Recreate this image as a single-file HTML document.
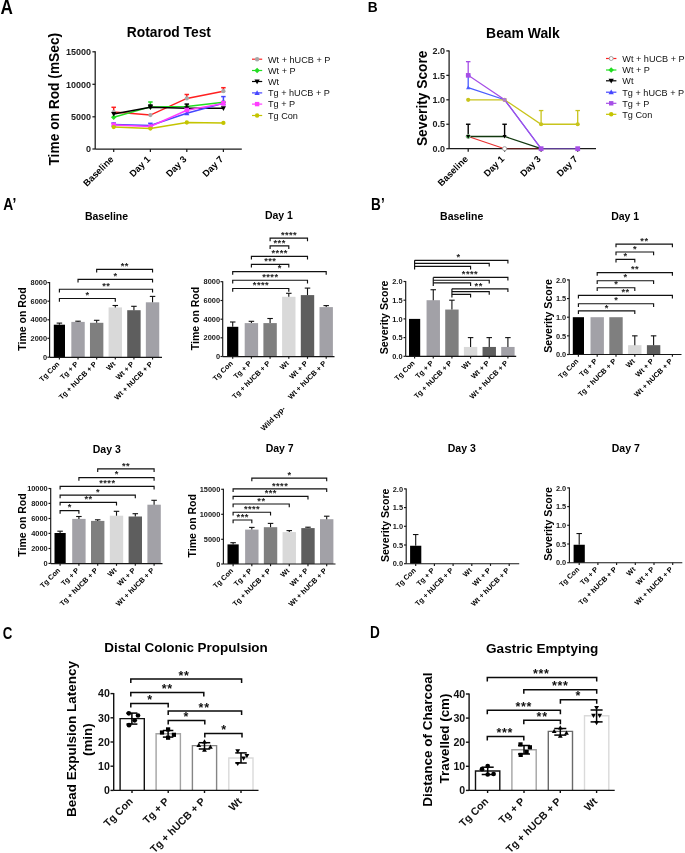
<!DOCTYPE html><html><head><meta charset="utf-8"><title>Figure</title><style>html,body{margin:0;padding:0;background:#fff;}svg{display:block;will-change:transform;}text{font-family:"Liberation Sans",sans-serif;}</style></head><body><svg width="685" height="853" viewBox="0 0 685 853" font-family="Liberation Sans" font-weight="bold">
<rect width="685" height="853" fill="#fff"/>
<text transform="translate(0.4 14.2) scale(0.88 1)" x="0" y="0" font-size="19.5">A</text>
<text transform="translate(367.7 11.6) scale(0.89 1)" x="0" y="0" font-size="15.4">B</text>
<text transform="translate(3.2 210.3) scale(0.87 1)" x="0" y="0" font-size="15.9">A’</text>
<text transform="translate(371.1 209.7) scale(0.86 1)" x="0" y="0" font-size="15.8">B’</text>
<text transform="translate(2.8 639.2) scale(0.83 1)" x="0" y="0" font-size="16">C</text>
<text transform="translate(370 637.7) scale(0.86 1)" x="0" y="0" font-size="15.8">D</text>
<text x="168.9" y="36.8" font-size="13.8" text-anchor="middle">Rotarod Test</text>
<text x="58.8" y="99.2" font-size="13.75" text-anchor="middle" transform="rotate(-90 58.8 99.2)">Time on Rod (mSec)</text>
<path d="M95.2 51.3L95.2 149" stroke="#1a1a1a" stroke-width="1.25" fill="none" />
<path d="M92.4 149L95.2 149" stroke="#1a1a1a" stroke-width="1.25" fill="none" />
<text x="91" y="152.2" font-size="9" text-anchor="end" fill="#1a1a1a">0</text>
<path d="M92.4 116.8L95.2 116.8" stroke="#1a1a1a" stroke-width="1.25" fill="none" />
<text x="91" y="120" font-size="9" text-anchor="end" fill="#1a1a1a">5000</text>
<path d="M92.4 84.3L95.2 84.3" stroke="#1a1a1a" stroke-width="1.25" fill="none" />
<text x="91" y="87.5" font-size="9" text-anchor="end" fill="#1a1a1a">10000</text>
<path d="M92.4 51.8L95.2 51.8" stroke="#1a1a1a" stroke-width="1.25" fill="none" />
<text x="91" y="55" font-size="9" text-anchor="end" fill="#1a1a1a">15000</text>
<path d="M95.2 149L241.8 149" stroke="#1a1a1a" stroke-width="1.25" fill="none" />
<path d="M113.7 149L113.7 152" stroke="#1a1a1a" stroke-width="1.25" fill="none" />
<path d="M150.4 149L150.4 152" stroke="#1a1a1a" stroke-width="1.25" fill="none" />
<path d="M186.8 149L186.8 152" stroke="#1a1a1a" stroke-width="1.25" fill="none" />
<path d="M223.4 149L223.4 152" stroke="#1a1a1a" stroke-width="1.25" fill="none" />
<text x="114.1" y="159.9" font-size="9.3" text-anchor="end" transform="rotate(-45 114.1 159.9)">Baseline</text>
<text x="150.8" y="159.9" font-size="9.3" text-anchor="end" transform="rotate(-45 150.8 159.9)">Day 1</text>
<text x="187.2" y="159.9" font-size="9.3" text-anchor="end" transform="rotate(-45 187.2 159.9)">Day 3</text>
<text x="223.8" y="159.9" font-size="9.3" text-anchor="end" transform="rotate(-45 223.8 159.9)">Day 7</text>
<path d="M113.7 112.1L113.7 107.3" stroke="#ff2020" stroke-width="1.5" fill="none" />
<path d="M111.45 107.3L115.95 107.3" stroke="#ff2020" stroke-width="1.5" fill="none" />
<path d="M186.8 98.4L186.8 94.5" stroke="#ff2020" stroke-width="1.5" fill="none" />
<path d="M184.55 94.5L189.05 94.5" stroke="#ff2020" stroke-width="1.5" fill="none" />
<path d="M223.4 91.2L223.4 87.7" stroke="#ff2020" stroke-width="1.5" fill="none" />
<path d="M221.15 87.7L225.65 87.7" stroke="#ff2020" stroke-width="1.5" fill="none" />
<path d="M113.7 112.1L150.4 115.1L186.8 98.4L223.4 91.2" stroke="#ff2020" stroke-width="1.5" fill="none" />
<circle cx="113.7" cy="112.1" r="2.15" fill="#a8a8a8"/>
<circle cx="150.4" cy="115.1" r="2.15" fill="#a8a8a8"/>
<circle cx="186.8" cy="98.4" r="2.15" fill="#a8a8a8"/>
<circle cx="223.4" cy="91.2" r="2.15" fill="#a8a8a8"/>
<path d="M150.4 106.9L150.4 102" stroke="#22dd22" stroke-width="1.5" fill="none" />
<path d="M148.15 102L152.65 102" stroke="#22dd22" stroke-width="1.5" fill="none" />
<path d="M113.7 117.3L150.4 106.9L186.8 106.5L223.4 102.3" stroke="#22dd22" stroke-width="1.5" fill="none" />
<path d="M113.7 114.61L116.39 117.3L113.7 119.99L111.01 117.3Z" fill="#22dd22"/>
<path d="M150.4 104.21L153.09 106.9L150.4 109.59L147.71 106.9Z" fill="#22dd22"/>
<path d="M186.8 103.81L189.49 106.5L186.8 109.19L184.11 106.5Z" fill="#22dd22"/>
<path d="M223.4 99.61L226.09 102.3L223.4 104.99L220.71 102.3Z" fill="#22dd22"/>
<path d="M150.4 107.3L150.4 105" stroke="#000000" stroke-width="1.5" fill="none" />
<path d="M148.15 105L152.65 105" stroke="#000000" stroke-width="1.5" fill="none" />
<path d="M186.8 108.3L186.8 104.1" stroke="#000000" stroke-width="1.5" fill="none" />
<path d="M184.55 104.1L189.05 104.1" stroke="#000000" stroke-width="1.5" fill="none" />
<path d="M113.7 113.9L150.4 107.3L186.8 108.3L223.4 108.3" stroke="#000000" stroke-width="1.5" fill="none" />
<path d="M113.7 116.48L116.28 111.97L111.12 111.97Z" fill="#000000"/>
<path d="M150.4 109.88L152.98 105.36L147.82 105.36Z" fill="#000000"/>
<path d="M186.8 110.88L189.38 106.36L184.22 106.36Z" fill="#000000"/>
<path d="M223.4 110.88L225.98 106.36L220.82 106.36Z" fill="#000000"/>
<path d="M113.7 124.5L113.7 123" stroke="#4646ff" stroke-width="1.5" fill="none" />
<path d="M111.45 123L115.95 123" stroke="#4646ff" stroke-width="1.5" fill="none" />
<path d="M150.4 125.5L150.4 123.3" stroke="#4646ff" stroke-width="1.5" fill="none" />
<path d="M148.15 123.3L152.65 123.3" stroke="#4646ff" stroke-width="1.5" fill="none" />
<path d="M186.8 113.3L186.8 111" stroke="#4646ff" stroke-width="1.5" fill="none" />
<path d="M184.55 111L189.05 111" stroke="#4646ff" stroke-width="1.5" fill="none" />
<path d="M223.4 103.2L223.4 96.6" stroke="#4646ff" stroke-width="1.5" fill="none" />
<path d="M221.15 96.6L225.65 96.6" stroke="#4646ff" stroke-width="1.5" fill="none" />
<path d="M113.7 124.5L150.4 125.5L186.8 113.3L223.4 103.2" stroke="#4646ff" stroke-width="1.5" fill="none" />
<path d="M113.7 121.92L116.28 126.44L111.12 126.44Z" fill="#4646ff"/>
<path d="M150.4 122.92L152.98 127.44L147.82 127.44Z" fill="#4646ff"/>
<path d="M186.8 110.72L189.38 115.23L184.22 115.23Z" fill="#4646ff"/>
<path d="M223.4 100.62L225.98 105.14L220.82 105.14Z" fill="#4646ff"/>
<path d="M113.7 124.9L113.7 123.5" stroke="#ff3cff" stroke-width="1.5" fill="none" />
<path d="M111.45 123.5L115.95 123.5" stroke="#ff3cff" stroke-width="1.5" fill="none" />
<path d="M186.8 110.2L186.8 108.5" stroke="#ff3cff" stroke-width="1.5" fill="none" />
<path d="M184.55 108.5L189.05 108.5" stroke="#ff3cff" stroke-width="1.5" fill="none" />
<path d="M223.4 103.5L223.4 101.5" stroke="#ff3cff" stroke-width="1.5" fill="none" />
<path d="M221.15 101.5L225.65 101.5" stroke="#ff3cff" stroke-width="1.5" fill="none" />
<path d="M113.7 124.9L150.4 126.5L186.8 110.2L223.4 103.5" stroke="#ff3cff" stroke-width="1.5" fill="none" />
<rect x="111.55" y="122.75" width="4.3" height="4.3" fill="#ff3cff"/>
<rect x="148.25" y="124.35" width="4.3" height="4.3" fill="#ff3cff"/>
<rect x="184.65" y="108.05" width="4.3" height="4.3" fill="#ff3cff"/>
<rect x="221.25" y="101.35" width="4.3" height="4.3" fill="#ff3cff"/>
<path d="M113.7 127.1L150.4 128.6L186.8 122.5L223.4 122.9" stroke="#c4c400" stroke-width="1.5" fill="none" />
<circle cx="113.7" cy="127.1" r="2.15" fill="#c4c400"/>
<circle cx="150.4" cy="128.6" r="2.15" fill="#c4c400"/>
<circle cx="186.8" cy="122.5" r="2.15" fill="#c4c400"/>
<circle cx="223.4" cy="122.9" r="2.15" fill="#c4c400"/>
<path d="M252 59.2L262.2 59.2" stroke="#ff2020" stroke-width="1.2" fill="none" />
<circle cx="257.1" cy="59.2" r="2.2" fill="#a8a8a8"/>
<text x="268" y="62.5" font-size="9.15" font-weight="normal" fill="#111">Wt + hUCB + P</text>
<path d="M252 70.5L262.2 70.5" stroke="#22dd22" stroke-width="1.2" fill="none" />
<path d="M257.1 67.75L259.85 70.5L257.1 73.25L254.35 70.5Z" fill="#22dd22"/>
<text x="268" y="73.8" font-size="9.15" font-weight="normal" fill="#111">Wt + P</text>
<path d="M252 81.5L262.2 81.5" stroke="#000" stroke-width="1.2" fill="none" />
<path d="M257.1 84.14L259.74 79.52L254.46 79.52Z" fill="#000"/>
<text x="268" y="84.8" font-size="9.15" font-weight="normal" fill="#111">Wt</text>
<path d="M252 92.9L262.2 92.9" stroke="#4646ff" stroke-width="1.2" fill="none" />
<path d="M257.1 90.26L259.74 94.88L254.46 94.88Z" fill="#4646ff"/>
<text x="268" y="96.2" font-size="9.15" font-weight="normal" fill="#111">Tg + hUCB + P</text>
<path d="M252 104.1L262.2 104.1" stroke="#ff3cff" stroke-width="1.2" fill="none" />
<rect x="254.9" y="101.9" width="4.4" height="4.4" fill="#ff3cff"/>
<text x="268" y="107.4" font-size="9.15" font-weight="normal" fill="#111">Tg + P</text>
<path d="M252 115.5L262.2 115.5" stroke="#c4c400" stroke-width="1.2" fill="none" />
<circle cx="257.1" cy="115.5" r="2.2" fill="#c4c400"/>
<text x="268" y="118.8" font-size="9.15" font-weight="normal" fill="#111">Tg Con</text>
<text x="522.9" y="37.8" font-size="13.9" text-anchor="middle">Beam Walk</text>
<text x="427.4" y="98.3" font-size="13.75" text-anchor="middle" transform="rotate(-90 427.4 98.3)">Severity Score</text>
<path d="M449.1 50.4L449.1 148.7" stroke="#1a1a1a" stroke-width="1.25" fill="none" />
<path d="M446.3 148.7L449.1 148.7" stroke="#1a1a1a" stroke-width="1.25" fill="none" />
<text x="445" y="151.9" font-size="9" text-anchor="end" fill="#1a1a1a">0.0</text>
<path d="M446.3 124.25L449.1 124.25" stroke="#1a1a1a" stroke-width="1.25" fill="none" />
<text x="445" y="127.45" font-size="9" text-anchor="end" fill="#1a1a1a">0.5</text>
<path d="M446.3 99.8L449.1 99.8" stroke="#1a1a1a" stroke-width="1.25" fill="none" />
<text x="445" y="103" font-size="9" text-anchor="end" fill="#1a1a1a">1.0</text>
<path d="M446.3 75.35L449.1 75.35" stroke="#1a1a1a" stroke-width="1.25" fill="none" />
<text x="445" y="78.55" font-size="9" text-anchor="end" fill="#1a1a1a">1.5</text>
<path d="M446.3 50.9L449.1 50.9" stroke="#1a1a1a" stroke-width="1.25" fill="none" />
<text x="445" y="54.1" font-size="9" text-anchor="end" fill="#1a1a1a">2.0</text>
<path d="M449.1 148.7L596 148.7" stroke="#1a1a1a" stroke-width="1.25" fill="none" />
<path d="M468.2 148.7L468.2 151.7" stroke="#1a1a1a" stroke-width="1.25" fill="none" />
<path d="M504.6 148.7L504.6 151.7" stroke="#1a1a1a" stroke-width="1.25" fill="none" />
<path d="M541.1 148.7L541.1 151.7" stroke="#1a1a1a" stroke-width="1.25" fill="none" />
<path d="M577.7 148.7L577.7 151.7" stroke="#1a1a1a" stroke-width="1.25" fill="none" />
<text x="468.6" y="159.6" font-size="9.3" text-anchor="end" transform="rotate(-45 468.6 159.6)">Baseline</text>
<text x="505" y="159.6" font-size="9.3" text-anchor="end" transform="rotate(-45 505 159.6)">Day 1</text>
<text x="541.5" y="159.6" font-size="9.3" text-anchor="end" transform="rotate(-45 541.5 159.6)">Day 3</text>
<text x="578.1" y="159.6" font-size="9.3" text-anchor="end" transform="rotate(-45 578.1 159.6)">Day 7</text>
<path d="M468.2 136.475L504.6 148.7" stroke="#e83030" stroke-width="1.1" fill="none" />
<path d="M504.6 148.7L541.1 148.7" stroke="#5c1a1a" stroke-width="1.2" fill="none" />
<path d="M468.2 136.47L468.2 124.25" stroke="#000" stroke-width="1.4" fill="none" />
<path d="M465.95 124.25L470.45 124.25" stroke="#000" stroke-width="1.4" fill="none" />
<path d="M504.6 136.47L504.6 124.25" stroke="#000" stroke-width="1.4" fill="none" />
<path d="M502.35 124.25L506.85 124.25" stroke="#000" stroke-width="1.4" fill="none" />
<path d="M468.2 136.475L504.6 136.475L541.1 148.7" stroke="#12380f" stroke-width="1.3" fill="none" />
<path d="M541.1 124.25L541.1 110.56" stroke="#c8c41c" stroke-width="1.3" fill="none" />
<path d="M538.85 110.56L543.35 110.56" stroke="#c8c41c" stroke-width="1.3" fill="none" />
<path d="M577.7 124.25L577.7 110.56" stroke="#c8c41c" stroke-width="1.3" fill="none" />
<path d="M575.45 110.56L579.95 110.56" stroke="#c8c41c" stroke-width="1.3" fill="none" />
<path d="M468.2 99.79999999999998L504.6 99.79999999999998L541.1 124.24999999999999L577.7 124.24999999999999" stroke="#c8c41c" stroke-width="1.3" fill="none" />
<path d="M468.2 87.57L468.2 75.35" stroke="#4a5cff" stroke-width="1.3" fill="none" />
<path d="M465.95 75.35L470.45 75.35" stroke="#4a5cff" stroke-width="1.3" fill="none" />
<path d="M468.2 87.57499999999999L504.6 99.79999999999998L541.1 148.7" stroke="#4a5cff" stroke-width="1.2" fill="none" />
<path d="M468.2 75.35L468.2 61.66" stroke="#a64ee6" stroke-width="1.3" fill="none" />
<path d="M465.95 61.66L470.45 61.66" stroke="#a64ee6" stroke-width="1.3" fill="none" />
<path d="M468.2 75.35L504.6 99.79999999999998L541.1 148.7" stroke="#a64ee6" stroke-width="1.2" fill="none" />
<path d="M541.1 148.7L577.7 148.7" stroke="#5c3c94" stroke-width="1.2" fill="none" />
<circle cx="468.2" cy="136.47" r="2.1" fill="#fff" stroke="#9a9a9a" stroke-width="0.9"/>
<circle cx="504.6" cy="148.7" r="2.1" fill="#fff" stroke="#9a9a9a" stroke-width="0.9"/>
<path d="M468.2 134.35L470.32 136.47L468.2 138.6L466.07 136.47Z" fill="#22cc22"/>
<path d="M468.2 138.51L470.24 134.94L466.16 134.94Z" fill="#000"/>
<path d="M504.6 138.51L506.64 134.94L502.56 134.94Z" fill="#000"/>
<circle cx="468.2" cy="99.8" r="2.1" fill="#c8c41c"/>
<circle cx="504.6" cy="99.8" r="2.1" fill="#c8c41c"/>
<circle cx="541.1" cy="124.25" r="2.1" fill="#c8c41c"/>
<circle cx="577.7" cy="124.25" r="2.1" fill="#c8c41c"/>
<path d="M468.2 85.41L470.36 89.19L466.04 89.19Z" fill="#4a5cff"/>
<rect x="465.9" y="73.05" width="4.6" height="4.6" fill="#a64ee6"/>
<rect x="502.8" y="98" width="3.6" height="3.6" fill="#b07ad0"/>
<rect x="538.7" y="146.3" width="4.8" height="4.8" fill="#a64ee6"/>
<rect x="575.3" y="146.3" width="4.8" height="4.8" fill="#a64ee6"/>
<path d="M606 58.5L616.4 58.5" stroke="#ff2020" stroke-width="1.2" fill="none" />
<circle cx="611.2" cy="58.5" r="2" fill="#fff" stroke="#999" stroke-width="0.9"/>
<text x="622.3" y="61.8" font-size="9.15" font-weight="normal" fill="#111">Wt + hUCB + P</text>
<path d="M606 70L616.4 70" stroke="#22dd22" stroke-width="1.2" fill="none" />
<path d="M611.2 67.25L613.95 70L611.2 72.75L608.45 70Z" fill="#22dd22"/>
<text x="622.3" y="73.3" font-size="9.15" font-weight="normal" fill="#111">Wt + P</text>
<path d="M606 80.8L616.4 80.8" stroke="#000" stroke-width="1.2" fill="none" />
<path d="M611.2 83.44L613.84 78.82L608.56 78.82Z" fill="#000"/>
<text x="622.3" y="84.1" font-size="9.15" font-weight="normal" fill="#111">Wt</text>
<path d="M606 92.2L616.4 92.2" stroke="#4646ff" stroke-width="1.2" fill="none" />
<path d="M611.2 89.56L613.84 94.18L608.56 94.18Z" fill="#4646ff"/>
<text x="622.3" y="95.5" font-size="9.15" font-weight="normal" fill="#111">Tg + hUCB + P</text>
<path d="M606 103.3L616.4 103.3" stroke="#a64ee6" stroke-width="1.2" fill="none" />
<rect x="609" y="101.1" width="4.4" height="4.4" fill="#a64ee6"/>
<text x="622.3" y="106.6" font-size="9.15" font-weight="normal" fill="#111">Tg + P</text>
<path d="M606 114.3L616.4 114.3" stroke="#c4c400" stroke-width="1.2" fill="none" />
<circle cx="611.2" cy="114.3" r="2.2" fill="#c4c400"/>
<text x="622.3" y="117.6" font-size="9.15" font-weight="normal" fill="#111">Tg Con</text>
<text x="106.5" y="220.2" font-size="10.5" text-anchor="middle">Baseline</text>
<text x="26" y="319" font-size="10.5" text-anchor="middle" transform="rotate(-90 26 319)">Time on Rod</text>
<rect x="53.8" y="324.7" width="11.2" height="32.6" fill="#000000"/>
<rect x="71.33" y="321.9" width="13.4" height="35.4" fill="#a2a1a7"/>
<rect x="89.96" y="322.8" width="13.4" height="34.5" fill="#7f7f7f"/>
<rect x="108.59" y="307.4" width="13.4" height="49.9" fill="#d9d9d9"/>
<rect x="127.22" y="310.2" width="13.4" height="47.1" fill="#5e5e5e"/>
<rect x="145.85" y="302.3" width="13.4" height="55" fill="#a2a1a7"/>
<path d="M59.4 324.7L59.4 323.1" stroke="#111" stroke-width="1.1" fill="none" />
<path d="M56.65 323.1L62.15 323.1" stroke="#111" stroke-width="1.1" fill="none" />
<path d="M78.03 321.9L78.03 321.2" stroke="#111" stroke-width="1.1" fill="none" />
<path d="M75.28 321.2L80.78 321.2" stroke="#111" stroke-width="1.1" fill="none" />
<path d="M96.66 322.8L96.66 320.3" stroke="#111" stroke-width="1.1" fill="none" />
<path d="M93.91 320.3L99.41 320.3" stroke="#111" stroke-width="1.1" fill="none" />
<path d="M115.29 307.4L115.29 305.5" stroke="#111" stroke-width="1.1" fill="none" />
<path d="M112.54 305.5L118.04 305.5" stroke="#111" stroke-width="1.1" fill="none" />
<path d="M133.92 310.2L133.92 306.3" stroke="#111" stroke-width="1.1" fill="none" />
<path d="M131.17 306.3L136.67 306.3" stroke="#111" stroke-width="1.1" fill="none" />
<path d="M152.55 302.3L152.55 296.4" stroke="#111" stroke-width="1.1" fill="none" />
<path d="M149.8 296.4L155.3 296.4" stroke="#111" stroke-width="1.1" fill="none" />
<path d="M49.6 282.1L49.6 357.2" stroke="#161616" stroke-width="1.15" fill="none" />
<path d="M47.4 357.2L49.6 357.2" stroke="#161616" stroke-width="1.15" fill="none" />
<text x="47" y="359.86" font-size="7.4" text-anchor="end" fill="#161616">0</text>
<path d="M47.4 338.3L49.6 338.3" stroke="#161616" stroke-width="1.15" fill="none" />
<text x="47" y="340.96" font-size="7.4" text-anchor="end" fill="#161616">2000</text>
<path d="M47.4 319.8L49.6 319.8" stroke="#161616" stroke-width="1.15" fill="none" />
<text x="47" y="322.46" font-size="7.4" text-anchor="end" fill="#161616">4000</text>
<path d="M47.4 301.2L49.6 301.2" stroke="#161616" stroke-width="1.15" fill="none" />
<text x="47" y="303.86" font-size="7.4" text-anchor="end" fill="#161616">6000</text>
<path d="M47.4 282.6L49.6 282.6" stroke="#161616" stroke-width="1.15" fill="none" />
<text x="47" y="285.26" font-size="7.4" text-anchor="end" fill="#161616">8000</text>
<path d="M49.6 357.3L162 357.3" stroke="#161616" stroke-width="1.15" fill="none" />
<path d="M59.4 357.3L59.4 359.5" stroke="#161616" stroke-width="1.15" fill="none" />
<path d="M78.03 357.3L78.03 359.5" stroke="#161616" stroke-width="1.15" fill="none" />
<path d="M96.66 357.3L96.66 359.5" stroke="#161616" stroke-width="1.15" fill="none" />
<path d="M115.29 357.3L115.29 359.5" stroke="#161616" stroke-width="1.15" fill="none" />
<path d="M133.92 357.3L133.92 359.5" stroke="#161616" stroke-width="1.15" fill="none" />
<path d="M152.55 357.3L152.55 359.5" stroke="#161616" stroke-width="1.15" fill="none" />
<text x="60" y="364.5" font-size="7.25" text-anchor="end" transform="rotate(-45 60 364.5)">Tg Con</text>
<text x="78.63" y="364.5" font-size="7.25" text-anchor="end" transform="rotate(-45 78.63 364.5)">Tg + P</text>
<text x="97.26" y="364.5" font-size="7.25" text-anchor="end" transform="rotate(-45 97.26 364.5)">Tg + hUCB + P</text>
<text x="115.89" y="364.5" font-size="7.25" text-anchor="end" transform="rotate(-45 115.89 364.5)">Wt</text>
<text x="134.52" y="364.5" font-size="7.25" text-anchor="end" transform="rotate(-45 134.52 364.5)">Wt + P</text>
<text x="153.15" y="364.5" font-size="7.25" text-anchor="end" transform="rotate(-45 153.15 364.5)">Wt + hUCB + P</text>
<path d="M96.66 272.6V269.4H152.55V272.6" stroke="#111" stroke-width="1.15" fill="none" />
<text x="124.83" y="269.1" font-size="9.3" text-anchor="middle" fill="#222" letter-spacing="0.45">**</text>
<path d="M78.03 282.5V279.3H152.55V282.5" stroke="#111" stroke-width="1.15" fill="none" />
<text x="115.51" y="279" font-size="9.3" text-anchor="middle" fill="#222" letter-spacing="0.45">*</text>
<path d="M59.4 292.4V289.2H152.55V292.4" stroke="#111" stroke-width="1.15" fill="none" />
<text x="106.2" y="288.9" font-size="9.3" text-anchor="middle" fill="#222" letter-spacing="0.45">**</text>
<path d="M59.4 301.7V298.5H115.29V301.7" stroke="#111" stroke-width="1.15" fill="none" />
<text x="87.57" y="298.2" font-size="9.3" text-anchor="middle" fill="#222" letter-spacing="0.45">*</text>
<text x="278.9" y="219.4" font-size="10.5" text-anchor="middle">Day 1</text>
<text x="199.2" y="318.5" font-size="10.5" text-anchor="middle" transform="rotate(-90 199.2 318.5)">Time on Rod</text>
<rect x="227.1" y="326.8" width="11.2" height="29.8" fill="#000000"/>
<rect x="244.7" y="323.1" width="13.4" height="33.5" fill="#a2a1a7"/>
<rect x="263.4" y="323.1" width="13.4" height="33.5" fill="#7f7f7f"/>
<rect x="282.1" y="296.8" width="13.4" height="59.8" fill="#d9d9d9"/>
<rect x="300.8" y="295.1" width="13.4" height="61.5" fill="#5e5e5e"/>
<rect x="319.5" y="307.1" width="13.4" height="49.5" fill="#a2a1a7"/>
<path d="M232.7 326.8L232.7 322" stroke="#111" stroke-width="1.1" fill="none" />
<path d="M229.95 322L235.45 322" stroke="#111" stroke-width="1.1" fill="none" />
<path d="M251.4 323.1L251.4 321.3" stroke="#111" stroke-width="1.1" fill="none" />
<path d="M248.65 321.3L254.15 321.3" stroke="#111" stroke-width="1.1" fill="none" />
<path d="M270.1 323.1L270.1 318.5" stroke="#111" stroke-width="1.1" fill="none" />
<path d="M267.35 318.5L272.85 318.5" stroke="#111" stroke-width="1.1" fill="none" />
<path d="M288.8 296.8L288.8 293.3" stroke="#111" stroke-width="1.1" fill="none" />
<path d="M286.05 293.3L291.55 293.3" stroke="#111" stroke-width="1.1" fill="none" />
<path d="M307.5 295.1L307.5 288.1" stroke="#111" stroke-width="1.1" fill="none" />
<path d="M304.75 288.1L310.25 288.1" stroke="#111" stroke-width="1.1" fill="none" />
<path d="M326.2 307.1L326.2 305.6" stroke="#111" stroke-width="1.1" fill="none" />
<path d="M323.45 305.6L328.95 305.6" stroke="#111" stroke-width="1.1" fill="none" />
<path d="M222.7 281.2L222.7 356.5" stroke="#161616" stroke-width="1.15" fill="none" />
<path d="M220.5 356.5L222.7 356.5" stroke="#161616" stroke-width="1.15" fill="none" />
<text x="220" y="359.16" font-size="7.4" text-anchor="end" fill="#161616">0</text>
<path d="M220.5 337.8L222.7 337.8" stroke="#161616" stroke-width="1.15" fill="none" />
<text x="220" y="340.46" font-size="7.4" text-anchor="end" fill="#161616">2000</text>
<path d="M220.5 319.2L222.7 319.2" stroke="#161616" stroke-width="1.15" fill="none" />
<text x="220" y="321.86" font-size="7.4" text-anchor="end" fill="#161616">4000</text>
<path d="M220.5 300.5L222.7 300.5" stroke="#161616" stroke-width="1.15" fill="none" />
<text x="220" y="303.16" font-size="7.4" text-anchor="end" fill="#161616">6000</text>
<path d="M220.5 281.7L222.7 281.7" stroke="#161616" stroke-width="1.15" fill="none" />
<text x="220" y="284.36" font-size="7.4" text-anchor="end" fill="#161616">8000</text>
<path d="M222.7 356.6L334.5 356.6" stroke="#161616" stroke-width="1.15" fill="none" />
<path d="M232.7 356.6L232.7 358.8" stroke="#161616" stroke-width="1.15" fill="none" />
<path d="M251.4 356.6L251.4 358.8" stroke="#161616" stroke-width="1.15" fill="none" />
<path d="M270.1 356.6L270.1 358.8" stroke="#161616" stroke-width="1.15" fill="none" />
<path d="M288.8 356.6L288.8 358.8" stroke="#161616" stroke-width="1.15" fill="none" />
<path d="M307.5 356.6L307.5 358.8" stroke="#161616" stroke-width="1.15" fill="none" />
<path d="M326.2 356.6L326.2 358.8" stroke="#161616" stroke-width="1.15" fill="none" />
<text x="233.3" y="363.8" font-size="7.25" text-anchor="end" transform="rotate(-45 233.3 363.8)">Tg Con</text>
<text x="252" y="363.8" font-size="7.25" text-anchor="end" transform="rotate(-45 252 363.8)">Tg + P</text>
<text x="270.7" y="363.8" font-size="7.25" text-anchor="end" transform="rotate(-45 270.7 363.8)">Tg + hUCB + P</text>
<text x="289.4" y="363.8" font-size="7.25" text-anchor="end" transform="rotate(-45 289.4 363.8)">Wt</text>
<text x="308.1" y="363.8" font-size="7.25" text-anchor="end" transform="rotate(-45 308.1 363.8)">Wt + P</text>
<text x="326.8" y="363.8" font-size="7.25" text-anchor="end" transform="rotate(-45 326.8 363.8)">Wt + hUCB + P</text>
<path d="M270.1 241.3V238.1H307.5V241.3" stroke="#111" stroke-width="1.15" fill="none" />
<text x="289.02" y="237.8" font-size="9.3" text-anchor="middle" fill="#222" letter-spacing="0.45">****</text>
<path d="M270.1 249V245.8H288.8V249" stroke="#111" stroke-width="1.15" fill="none" />
<text x="279.67" y="245.5" font-size="9.3" text-anchor="middle" fill="#222" letter-spacing="0.45">***</text>
<path d="M251.4 259.5V256.3H307.5V259.5" stroke="#111" stroke-width="1.15" fill="none" />
<text x="279.68" y="256" font-size="9.3" text-anchor="middle" fill="#222" letter-spacing="0.45">****</text>
<path d="M251.4 267.6V264.4H288.8V267.6" stroke="#111" stroke-width="1.15" fill="none" />
<text x="270.32" y="264.1" font-size="9.3" text-anchor="middle" fill="#222" letter-spacing="0.45">***</text>
<path d="M232.7 274.8V271.6H326.2V274.8" stroke="#111" stroke-width="1.15" fill="none" />
<text x="279.68" y="271.3" font-size="9.3" text-anchor="middle" fill="#222" letter-spacing="0.45">*</text>
<path d="M232.7 283.4V280.2H307.5V283.4" stroke="#111" stroke-width="1.15" fill="none" />
<text x="270.33" y="279.9" font-size="9.3" text-anchor="middle" fill="#222" letter-spacing="0.45">****</text>
<path d="M232.7 291.7V288.5H288.8V291.7" stroke="#111" stroke-width="1.15" fill="none" />
<text x="260.98" y="288.2" font-size="9.3" text-anchor="middle" fill="#222" letter-spacing="0.45">****</text>
<text x="285.8" y="409.3" font-size="7.4" text-anchor="end" transform="rotate(-45 285.8 409.3)">Wild typ-</text>
<text x="106.8" y="452.8" font-size="10.5" text-anchor="middle">Day 3</text>
<text x="26" y="525" font-size="10.5" text-anchor="middle" transform="rotate(-90 26 525)">Time on Rod</text>
<rect x="54.5" y="533" width="11.2" height="30.6" fill="#000000"/>
<rect x="72.2" y="518.9" width="13.4" height="44.7" fill="#a2a1a7"/>
<rect x="91" y="520.9" width="13.4" height="42.7" fill="#7f7f7f"/>
<rect x="109.8" y="515.7" width="13.4" height="47.9" fill="#d9d9d9"/>
<rect x="128.6" y="516.5" width="13.4" height="47.1" fill="#5e5e5e"/>
<rect x="147.4" y="504.7" width="13.4" height="58.9" fill="#a2a1a7"/>
<path d="M60.1 533L60.1 531.2" stroke="#111" stroke-width="1.1" fill="none" />
<path d="M57.35 531.2L62.85 531.2" stroke="#111" stroke-width="1.1" fill="none" />
<path d="M78.9 518.9L78.9 516.5" stroke="#111" stroke-width="1.1" fill="none" />
<path d="M76.15 516.5L81.65 516.5" stroke="#111" stroke-width="1.1" fill="none" />
<path d="M97.7 520.9L97.7 519.8" stroke="#111" stroke-width="1.1" fill="none" />
<path d="M94.95 519.8L100.45 519.8" stroke="#111" stroke-width="1.1" fill="none" />
<path d="M116.5 515.7L116.5 511.3" stroke="#111" stroke-width="1.1" fill="none" />
<path d="M113.75 511.3L119.25 511.3" stroke="#111" stroke-width="1.1" fill="none" />
<path d="M135.3 516.5L135.3 513.7" stroke="#111" stroke-width="1.1" fill="none" />
<path d="M132.55 513.7L138.05 513.7" stroke="#111" stroke-width="1.1" fill="none" />
<path d="M154.1 504.7L154.1 500.3" stroke="#111" stroke-width="1.1" fill="none" />
<path d="M151.35 500.3L156.85 500.3" stroke="#111" stroke-width="1.1" fill="none" />
<path d="M50.7 488L50.7 563.4" stroke="#161616" stroke-width="1.15" fill="none" />
<path d="M48.5 563.4L50.7 563.4" stroke="#161616" stroke-width="1.15" fill="none" />
<text x="47.7" y="566.06" font-size="7.4" text-anchor="end" fill="#161616">0</text>
<path d="M48.5 548.5L50.7 548.5" stroke="#161616" stroke-width="1.15" fill="none" />
<text x="47.7" y="551.16" font-size="7.4" text-anchor="end" fill="#161616">2000</text>
<path d="M48.5 533.4L50.7 533.4" stroke="#161616" stroke-width="1.15" fill="none" />
<text x="47.7" y="536.06" font-size="7.4" text-anchor="end" fill="#161616">4000</text>
<path d="M48.5 518.5L50.7 518.5" stroke="#161616" stroke-width="1.15" fill="none" />
<text x="47.7" y="521.16" font-size="7.4" text-anchor="end" fill="#161616">6000</text>
<path d="M48.5 503.4L50.7 503.4" stroke="#161616" stroke-width="1.15" fill="none" />
<text x="47.7" y="506.06" font-size="7.4" text-anchor="end" fill="#161616">8000</text>
<path d="M48.5 488.5L50.7 488.5" stroke="#161616" stroke-width="1.15" fill="none" />
<text x="47.7" y="491.16" font-size="7.4" text-anchor="end" fill="#161616">10000</text>
<path d="M50.7 563.6L162.5 563.6" stroke="#161616" stroke-width="1.15" fill="none" />
<path d="M60.1 563.6L60.1 565.8" stroke="#161616" stroke-width="1.15" fill="none" />
<path d="M78.9 563.6L78.9 565.8" stroke="#161616" stroke-width="1.15" fill="none" />
<path d="M97.7 563.6L97.7 565.8" stroke="#161616" stroke-width="1.15" fill="none" />
<path d="M116.5 563.6L116.5 565.8" stroke="#161616" stroke-width="1.15" fill="none" />
<path d="M135.3 563.6L135.3 565.8" stroke="#161616" stroke-width="1.15" fill="none" />
<path d="M154.1 563.6L154.1 565.8" stroke="#161616" stroke-width="1.15" fill="none" />
<text x="60.7" y="570.8" font-size="7.25" text-anchor="end" transform="rotate(-45 60.7 570.8)">Tg Con</text>
<text x="79.5" y="570.8" font-size="7.25" text-anchor="end" transform="rotate(-45 79.5 570.8)">Tg + P</text>
<text x="98.3" y="570.8" font-size="7.25" text-anchor="end" transform="rotate(-45 98.3 570.8)">Tg + hUCB + P</text>
<text x="117.1" y="570.8" font-size="7.25" text-anchor="end" transform="rotate(-45 117.1 570.8)">Wt</text>
<text x="135.9" y="570.8" font-size="7.25" text-anchor="end" transform="rotate(-45 135.9 570.8)">Wt + P</text>
<text x="154.7" y="570.8" font-size="7.25" text-anchor="end" transform="rotate(-45 154.7 570.8)">Wt + hUCB + P</text>
<path d="M97.7 472V468.8H154.1V472" stroke="#111" stroke-width="1.15" fill="none" />
<text x="126.12" y="468.5" font-size="9.3" text-anchor="middle" fill="#222" letter-spacing="0.45">**</text>
<path d="M78.9 480.8V477.6H154.1V480.8" stroke="#111" stroke-width="1.15" fill="none" />
<text x="116.72" y="477.3" font-size="9.3" text-anchor="middle" fill="#222" letter-spacing="0.45">*</text>
<path d="M60.1 489.5V486.3H154.1V489.5" stroke="#111" stroke-width="1.15" fill="none" />
<text x="107.32" y="486" font-size="9.3" text-anchor="middle" fill="#222" letter-spacing="0.45">****</text>
<path d="M60.1 498.3V495.1H135.3V498.3" stroke="#111" stroke-width="1.15" fill="none" />
<text x="97.92" y="494.8" font-size="9.3" text-anchor="middle" fill="#222" letter-spacing="0.45">*</text>
<path d="M60.1 505.5V502.3H116.5V505.5" stroke="#111" stroke-width="1.15" fill="none" />
<text x="88.52" y="502" font-size="9.3" text-anchor="middle" fill="#222" letter-spacing="0.45">**</text>
<path d="M60.1 513.8V510.6H78.9V513.8" stroke="#111" stroke-width="1.15" fill="none" />
<text x="69.72" y="510.3" font-size="9.3" text-anchor="middle" fill="#222" letter-spacing="0.45">*</text>
<text x="279.7" y="452" font-size="10.5" text-anchor="middle">Day 7</text>
<text x="196" y="525.8" font-size="10.5" text-anchor="middle" transform="rotate(-90 196 525.8)">Time on Rod</text>
<rect x="227.5" y="544.4" width="11.2" height="19.6" fill="#000000"/>
<rect x="245.12" y="529.6" width="13.4" height="34.4" fill="#a2a1a7"/>
<rect x="263.84" y="527.2" width="13.4" height="36.8" fill="#7f7f7f"/>
<rect x="282.56" y="532.1" width="13.4" height="31.9" fill="#d9d9d9"/>
<rect x="301.28" y="528.1" width="13.4" height="35.9" fill="#5e5e5e"/>
<rect x="320" y="519.2" width="13.4" height="44.8" fill="#a2a1a7"/>
<path d="M233.1 544.4L233.1 542.7" stroke="#111" stroke-width="1.1" fill="none" />
<path d="M230.35 542.7L235.85 542.7" stroke="#111" stroke-width="1.1" fill="none" />
<path d="M251.82 529.6L251.82 527.4" stroke="#111" stroke-width="1.1" fill="none" />
<path d="M249.07 527.4L254.57 527.4" stroke="#111" stroke-width="1.1" fill="none" />
<path d="M270.54 527.2L270.54 523.4" stroke="#111" stroke-width="1.1" fill="none" />
<path d="M267.79 523.4L273.29 523.4" stroke="#111" stroke-width="1.1" fill="none" />
<path d="M289.26 532.1L289.26 530.6" stroke="#111" stroke-width="1.1" fill="none" />
<path d="M286.51 530.6L292.01 530.6" stroke="#111" stroke-width="1.1" fill="none" />
<path d="M307.98 528.1L307.98 527.2" stroke="#111" stroke-width="1.1" fill="none" />
<path d="M305.23 527.2L310.73 527.2" stroke="#111" stroke-width="1.1" fill="none" />
<path d="M326.7 519.2L326.7 516.2" stroke="#111" stroke-width="1.1" fill="none" />
<path d="M323.95 516.2L329.45 516.2" stroke="#111" stroke-width="1.1" fill="none" />
<path d="M223.4 488.8L223.4 564" stroke="#161616" stroke-width="1.15" fill="none" />
<path d="M221.2 564L223.4 564" stroke="#161616" stroke-width="1.15" fill="none" />
<text x="220.3" y="566.66" font-size="7.4" text-anchor="end" fill="#161616">0</text>
<path d="M221.2 539.3L223.4 539.3" stroke="#161616" stroke-width="1.15" fill="none" />
<text x="220.3" y="541.96" font-size="7.4" text-anchor="end" fill="#161616">5000</text>
<path d="M221.2 514.3L223.4 514.3" stroke="#161616" stroke-width="1.15" fill="none" />
<text x="220.3" y="516.96" font-size="7.4" text-anchor="end" fill="#161616">10000</text>
<path d="M221.2 489.3L223.4 489.3" stroke="#161616" stroke-width="1.15" fill="none" />
<text x="220.3" y="491.96" font-size="7.4" text-anchor="end" fill="#161616">15000</text>
<path d="M223.4 564L335.5 564" stroke="#161616" stroke-width="1.15" fill="none" />
<path d="M233.1 564L233.1 566.2" stroke="#161616" stroke-width="1.15" fill="none" />
<path d="M251.82 564L251.82 566.2" stroke="#161616" stroke-width="1.15" fill="none" />
<path d="M270.54 564L270.54 566.2" stroke="#161616" stroke-width="1.15" fill="none" />
<path d="M289.26 564L289.26 566.2" stroke="#161616" stroke-width="1.15" fill="none" />
<path d="M307.98 564L307.98 566.2" stroke="#161616" stroke-width="1.15" fill="none" />
<path d="M326.7 564L326.7 566.2" stroke="#161616" stroke-width="1.15" fill="none" />
<text x="233.7" y="571.2" font-size="7.25" text-anchor="end" transform="rotate(-45 233.7 571.2)">Tg Con</text>
<text x="252.42" y="571.2" font-size="7.25" text-anchor="end" transform="rotate(-45 252.42 571.2)">Tg + P</text>
<text x="271.14" y="571.2" font-size="7.25" text-anchor="end" transform="rotate(-45 271.14 571.2)">Tg + hUCB + P</text>
<text x="289.86" y="571.2" font-size="7.25" text-anchor="end" transform="rotate(-45 289.86 571.2)">Wt</text>
<text x="308.58" y="571.2" font-size="7.25" text-anchor="end" transform="rotate(-45 308.58 571.2)">Wt + P</text>
<text x="327.3" y="571.2" font-size="7.25" text-anchor="end" transform="rotate(-45 327.3 571.2)">Wt + hUCB + P</text>
<path d="M251.82 481.3V478.1H326.7V481.3" stroke="#111" stroke-width="1.15" fill="none" />
<text x="289.49" y="477.8" font-size="9.3" text-anchor="middle" fill="#222" letter-spacing="0.45">*</text>
<path d="M233.1 492.1V488.9H326.7V492.1" stroke="#111" stroke-width="1.15" fill="none" />
<text x="280.12" y="488.6" font-size="9.3" text-anchor="middle" fill="#222" letter-spacing="0.45">****</text>
<path d="M233.1 499.5V496.3H307.98V499.5" stroke="#111" stroke-width="1.15" fill="none" />
<text x="270.77" y="496" font-size="9.3" text-anchor="middle" fill="#222" letter-spacing="0.45">***</text>
<path d="M233.1 507.2V504H289.26V507.2" stroke="#111" stroke-width="1.15" fill="none" />
<text x="261.41" y="503.7" font-size="9.3" text-anchor="middle" fill="#222" letter-spacing="0.45">**</text>
<path d="M233.1 515.4V512.2H270.54V515.4" stroke="#111" stroke-width="1.15" fill="none" />
<text x="252.04" y="511.9" font-size="9.3" text-anchor="middle" fill="#222" letter-spacing="0.45">****</text>
<path d="M233.1 523.2V520H251.82V523.2" stroke="#111" stroke-width="1.15" fill="none" />
<text x="242.68" y="519.7" font-size="9.3" text-anchor="middle" fill="#222" letter-spacing="0.45">***</text>
<text x="461.7" y="220.2" font-size="10.5" text-anchor="middle">Baseline</text>
<text x="387.6" y="317.4" font-size="10.6" text-anchor="middle" transform="rotate(-90 387.6 317.4)">Severity Score</text>
<rect x="409" y="318.9" width="11.2" height="37.4" fill="#000000"/>
<rect x="426.56" y="300.2" width="13.4" height="56.1" fill="#a2a1a7"/>
<rect x="445.22" y="309.55" width="13.4" height="46.75" fill="#7f7f7f"/>
<rect x="463.88" y="346.95" width="13.4" height="9.35" fill="#d9d9d9"/>
<rect x="482.54" y="346.95" width="13.4" height="9.35" fill="#5e5e5e"/>
<rect x="501.2" y="346.95" width="13.4" height="9.35" fill="#a2a1a7"/>
<path d="M433.26 300.2L433.26 289.73" stroke="#111" stroke-width="1.1" fill="none" />
<path d="M430.51 289.73L436.01 289.73" stroke="#111" stroke-width="1.1" fill="none" />
<path d="M451.92 309.55L451.92 300.2" stroke="#111" stroke-width="1.1" fill="none" />
<path d="M449.17 300.2L454.67 300.2" stroke="#111" stroke-width="1.1" fill="none" />
<path d="M470.58 346.95L470.58 337.6" stroke="#111" stroke-width="1.1" fill="none" />
<path d="M467.83 337.6L473.33 337.6" stroke="#111" stroke-width="1.1" fill="none" />
<path d="M489.24 346.95L489.24 337.6" stroke="#111" stroke-width="1.1" fill="none" />
<path d="M486.49 337.6L491.99 337.6" stroke="#111" stroke-width="1.1" fill="none" />
<path d="M507.9 346.95L507.9 337.6" stroke="#111" stroke-width="1.1" fill="none" />
<path d="M505.15 337.6L510.65 337.6" stroke="#111" stroke-width="1.1" fill="none" />
<path d="M405.7 281L405.7 356.3" stroke="#161616" stroke-width="1.15" fill="none" />
<path d="M403.5 356.3L405.7 356.3" stroke="#161616" stroke-width="1.15" fill="none" />
<text x="402.5" y="358.96" font-size="7.4" text-anchor="end" fill="#161616">0.0</text>
<path d="M403.5 337.6L405.7 337.6" stroke="#161616" stroke-width="1.15" fill="none" />
<text x="402.5" y="340.26" font-size="7.4" text-anchor="end" fill="#161616">0.5</text>
<path d="M403.5 318.9L405.7 318.9" stroke="#161616" stroke-width="1.15" fill="none" />
<text x="402.5" y="321.56" font-size="7.4" text-anchor="end" fill="#161616">1.0</text>
<path d="M403.5 300.2L405.7 300.2" stroke="#161616" stroke-width="1.15" fill="none" />
<text x="402.5" y="302.86" font-size="7.4" text-anchor="end" fill="#161616">1.5</text>
<path d="M403.5 281.5L405.7 281.5" stroke="#161616" stroke-width="1.15" fill="none" />
<text x="402.5" y="284.16" font-size="7.4" text-anchor="end" fill="#161616">2.0</text>
<path d="M405.7 356.3L516.2 356.3" stroke="#161616" stroke-width="1.15" fill="none" />
<path d="M414.6 356.3L414.6 358.5" stroke="#161616" stroke-width="1.15" fill="none" />
<path d="M433.26 356.3L433.26 358.5" stroke="#161616" stroke-width="1.15" fill="none" />
<path d="M451.92 356.3L451.92 358.5" stroke="#161616" stroke-width="1.15" fill="none" />
<path d="M470.58 356.3L470.58 358.5" stroke="#161616" stroke-width="1.15" fill="none" />
<path d="M489.24 356.3L489.24 358.5" stroke="#161616" stroke-width="1.15" fill="none" />
<path d="M507.9 356.3L507.9 358.5" stroke="#161616" stroke-width="1.15" fill="none" />
<text x="415.2" y="363.5" font-size="7.25" text-anchor="end" transform="rotate(-45 415.2 363.5)">Tg Con</text>
<text x="433.86" y="363.5" font-size="7.25" text-anchor="end" transform="rotate(-45 433.86 363.5)">Tg + P</text>
<text x="452.52" y="363.5" font-size="7.25" text-anchor="end" transform="rotate(-45 452.52 363.5)">Tg + hUCB + P</text>
<text x="471.18" y="363.5" font-size="7.25" text-anchor="end" transform="rotate(-45 471.18 363.5)">Wt</text>
<text x="489.84" y="363.5" font-size="7.25" text-anchor="end" transform="rotate(-45 489.84 363.5)">Wt + P</text>
<text x="508.5" y="363.5" font-size="7.25" text-anchor="end" transform="rotate(-45 508.5 363.5)">Wt + hUCB + P</text>
<path d="M414.6 260.3V269.5" stroke="#111" stroke-width="1.15" fill="none" />
<path d="M414.6 260.3H507.9V263.5" stroke="#111" stroke-width="1.15" fill="none" />
<path d="M414.6 263.4H489.24V266.6" stroke="#111" stroke-width="1.15" fill="none" />
<path d="M414.6 266.3H470.58V269.5" stroke="#111" stroke-width="1.15" fill="none" />
<text x="458.48" y="260" font-size="9.3" text-anchor="middle" fill="#222" letter-spacing="0.45">*</text>
<path d="M433.26 277.4V286.1" stroke="#111" stroke-width="1.15" fill="none" />
<path d="M433.26 277.4H507.9V280.6" stroke="#111" stroke-width="1.15" fill="none" />
<path d="M433.26 280.2H489.24V283.4" stroke="#111" stroke-width="1.15" fill="none" />
<path d="M433.26 282.9H470.58V286.1" stroke="#111" stroke-width="1.15" fill="none" />
<text x="470.01" y="277.1" font-size="9.3" text-anchor="middle" fill="#222" letter-spacing="0.45">****</text>
<path d="M451.92 288.8V297.5" stroke="#111" stroke-width="1.15" fill="none" />
<path d="M451.92 288.8H507.9V292" stroke="#111" stroke-width="1.15" fill="none" />
<path d="M451.92 291.6H489.24V294.8" stroke="#111" stroke-width="1.15" fill="none" />
<path d="M451.92 294.3H470.58V297.5" stroke="#111" stroke-width="1.15" fill="none" />
<text x="478.64" y="288.5" font-size="9.3" text-anchor="middle" fill="#222" letter-spacing="0.45">**</text>
<text x="625.2" y="220" font-size="10.5" text-anchor="middle">Day 1</text>
<text x="552" y="316" font-size="10.6" text-anchor="middle" transform="rotate(-90 552 316)">Severity Score</text>
<rect x="572.8" y="317.2" width="11.2" height="37.3" fill="#000000"/>
<rect x="590.5" y="317.2" width="13.4" height="37.3" fill="#a2a1a7"/>
<rect x="609.3" y="317.2" width="13.4" height="37.3" fill="#7f7f7f"/>
<rect x="628.1" y="345.18" width="13.4" height="9.32" fill="#d9d9d9"/>
<rect x="646.9" y="345.18" width="13.4" height="9.32" fill="#5e5e5e"/>
<path d="M634.8 345.18L634.8 335.85" stroke="#111" stroke-width="1.1" fill="none" />
<path d="M632.05 335.85L637.55 335.85" stroke="#111" stroke-width="1.1" fill="none" />
<path d="M653.6 345.18L653.6 335.85" stroke="#111" stroke-width="1.1" fill="none" />
<path d="M650.85 335.85L656.35 335.85" stroke="#111" stroke-width="1.1" fill="none" />
<path d="M569.2 279.4L569.2 354.5" stroke="#161616" stroke-width="1.15" fill="none" />
<path d="M567 354.5L569.2 354.5" stroke="#161616" stroke-width="1.15" fill="none" />
<text x="566.2" y="357.16" font-size="7.4" text-anchor="end" fill="#161616">0.0</text>
<path d="M567 335.85L569.2 335.85" stroke="#161616" stroke-width="1.15" fill="none" />
<text x="566.2" y="338.51" font-size="7.4" text-anchor="end" fill="#161616">0.5</text>
<path d="M567 317.2L569.2 317.2" stroke="#161616" stroke-width="1.15" fill="none" />
<text x="566.2" y="319.86" font-size="7.4" text-anchor="end" fill="#161616">1.0</text>
<path d="M567 298.55L569.2 298.55" stroke="#161616" stroke-width="1.15" fill="none" />
<text x="566.2" y="301.21" font-size="7.4" text-anchor="end" fill="#161616">1.5</text>
<path d="M567 279.9L569.2 279.9" stroke="#161616" stroke-width="1.15" fill="none" />
<text x="566.2" y="282.56" font-size="7.4" text-anchor="end" fill="#161616">2.0</text>
<path d="M569.2 354.5L681.5 354.5" stroke="#161616" stroke-width="1.15" fill="none" />
<path d="M578.4 354.5L578.4 356.7" stroke="#161616" stroke-width="1.15" fill="none" />
<path d="M597.2 354.5L597.2 356.7" stroke="#161616" stroke-width="1.15" fill="none" />
<path d="M616 354.5L616 356.7" stroke="#161616" stroke-width="1.15" fill="none" />
<path d="M634.8 354.5L634.8 356.7" stroke="#161616" stroke-width="1.15" fill="none" />
<path d="M653.6 354.5L653.6 356.7" stroke="#161616" stroke-width="1.15" fill="none" />
<path d="M672.4 354.5L672.4 356.7" stroke="#161616" stroke-width="1.15" fill="none" />
<text x="579" y="361.7" font-size="7.25" text-anchor="end" transform="rotate(-45 579 361.7)">Tg Con</text>
<text x="597.8" y="361.7" font-size="7.25" text-anchor="end" transform="rotate(-45 597.8 361.7)">Tg + P</text>
<text x="616.6" y="361.7" font-size="7.25" text-anchor="end" transform="rotate(-45 616.6 361.7)">Tg + hUCB + P</text>
<text x="635.4" y="361.7" font-size="7.25" text-anchor="end" transform="rotate(-45 635.4 361.7)">Wt</text>
<text x="654.2" y="361.7" font-size="7.25" text-anchor="end" transform="rotate(-45 654.2 361.7)">Wt + P</text>
<text x="673" y="361.7" font-size="7.25" text-anchor="end" transform="rotate(-45 673 361.7)">Wt + hUCB + P</text>
<path d="M616 247.3V244.1H672.4V247.3" stroke="#111" stroke-width="1.15" fill="none" />
<text x="644.43" y="243.8" font-size="9.3" text-anchor="middle" fill="#222" letter-spacing="0.45">**</text>
<path d="M616 255.2V252H653.6V255.2" stroke="#111" stroke-width="1.15" fill="none" />
<text x="635.02" y="251.7" font-size="9.3" text-anchor="middle" fill="#222" letter-spacing="0.45">*</text>
<path d="M616 262.6V259.4H634.8V262.6" stroke="#111" stroke-width="1.15" fill="none" />
<text x="625.62" y="259.1" font-size="9.3" text-anchor="middle" fill="#222" letter-spacing="0.45">*</text>
<path d="M597.2 275.8V272.6H672.4V275.8" stroke="#111" stroke-width="1.15" fill="none" />
<text x="635.02" y="272.3" font-size="9.3" text-anchor="middle" fill="#222" letter-spacing="0.45">**</text>
<path d="M597.2 283.9V280.7H653.6V283.9" stroke="#111" stroke-width="1.15" fill="none" />
<text x="625.62" y="280.4" font-size="9.3" text-anchor="middle" fill="#222" letter-spacing="0.45">*</text>
<path d="M597.2 290.9V287.7H634.8V290.9" stroke="#111" stroke-width="1.15" fill="none" />
<text x="616.23" y="287.4" font-size="9.3" text-anchor="middle" fill="#222" letter-spacing="0.45">*</text>
<path d="M578.4 298.6V295.4H672.4V298.6" stroke="#111" stroke-width="1.15" fill="none" />
<text x="625.62" y="295.1" font-size="9.3" text-anchor="middle" fill="#222" letter-spacing="0.45">**</text>
<path d="M578.4 306.9V303.7H653.6V306.9" stroke="#111" stroke-width="1.15" fill="none" />
<text x="616.23" y="303.4" font-size="9.3" text-anchor="middle" fill="#222" letter-spacing="0.45">*</text>
<path d="M578.4 314V310.8H634.8V314" stroke="#111" stroke-width="1.15" fill="none" />
<text x="606.82" y="310.5" font-size="9.3" text-anchor="middle" fill="#222" letter-spacing="0.45">*</text>
<text x="461.8" y="452" font-size="10.5" text-anchor="middle">Day 3</text>
<text x="388.8" y="525.3" font-size="10.6" text-anchor="middle" transform="rotate(-90 388.8 525.3)">Severity Score</text>
<rect x="410.1" y="545.75" width="11.2" height="17.95" fill="#000000"/>
<path d="M415.7 545.75L415.7 534.53" stroke="#111" stroke-width="1.1" fill="none" />
<path d="M412.95 534.53L418.45 534.53" stroke="#111" stroke-width="1.1" fill="none" />
<path d="M406.2 488.4L406.2 563.7" stroke="#161616" stroke-width="1.15" fill="none" />
<path d="M404 563.7L406.2 563.7" stroke="#161616" stroke-width="1.15" fill="none" />
<text x="403" y="566.36" font-size="7.4" text-anchor="end" fill="#161616">0.0</text>
<path d="M404 545L406.2 545" stroke="#161616" stroke-width="1.15" fill="none" />
<text x="403" y="547.66" font-size="7.4" text-anchor="end" fill="#161616">0.5</text>
<path d="M404 526.3L406.2 526.3" stroke="#161616" stroke-width="1.15" fill="none" />
<text x="403" y="528.96" font-size="7.4" text-anchor="end" fill="#161616">1.0</text>
<path d="M404 507.6L406.2 507.6" stroke="#161616" stroke-width="1.15" fill="none" />
<text x="403" y="510.26" font-size="7.4" text-anchor="end" fill="#161616">1.5</text>
<path d="M404 488.9L406.2 488.9" stroke="#161616" stroke-width="1.15" fill="none" />
<text x="403" y="491.56" font-size="7.4" text-anchor="end" fill="#161616">2.0</text>
<path d="M406.2 563.7L519.2 563.7" stroke="#161616" stroke-width="1.15" fill="none" />
<path d="M415.7 563.7L415.7 565.9" stroke="#161616" stroke-width="1.15" fill="none" />
<path d="M434.4 563.7L434.4 565.9" stroke="#161616" stroke-width="1.15" fill="none" />
<path d="M453.1 563.7L453.1 565.9" stroke="#161616" stroke-width="1.15" fill="none" />
<path d="M471.8 563.7L471.8 565.9" stroke="#161616" stroke-width="1.15" fill="none" />
<path d="M490.5 563.7L490.5 565.9" stroke="#161616" stroke-width="1.15" fill="none" />
<path d="M509.2 563.7L509.2 565.9" stroke="#161616" stroke-width="1.15" fill="none" />
<text x="416.3" y="570.9" font-size="7.25" text-anchor="end" transform="rotate(-45 416.3 570.9)">Tg Con</text>
<text x="435" y="570.9" font-size="7.25" text-anchor="end" transform="rotate(-45 435 570.9)">Tg + P</text>
<text x="453.7" y="570.9" font-size="7.25" text-anchor="end" transform="rotate(-45 453.7 570.9)">Tg + hUCB + P</text>
<text x="472.4" y="570.9" font-size="7.25" text-anchor="end" transform="rotate(-45 472.4 570.9)">Wt</text>
<text x="491.1" y="570.9" font-size="7.25" text-anchor="end" transform="rotate(-45 491.1 570.9)">Wt + P</text>
<text x="509.8" y="570.9" font-size="7.25" text-anchor="end" transform="rotate(-45 509.8 570.9)">Wt + hUCB + P</text>
<text x="625.8" y="452" font-size="10.5" text-anchor="middle">Day 7</text>
<text x="552.4" y="524" font-size="10.6" text-anchor="middle" transform="rotate(-90 552.4 524)">Severity Score</text>
<rect x="573.6" y="544.75" width="11.2" height="17.95" fill="#000000"/>
<path d="M579.2 544.75L579.2 533.53" stroke="#111" stroke-width="1.1" fill="none" />
<path d="M576.45 533.53L581.95 533.53" stroke="#111" stroke-width="1.1" fill="none" />
<path d="M569.4 487.4L569.4 562.7" stroke="#161616" stroke-width="1.15" fill="none" />
<path d="M567.2 562.7L569.4 562.7" stroke="#161616" stroke-width="1.15" fill="none" />
<text x="566.2" y="565.36" font-size="7.4" text-anchor="end" fill="#161616">0.0</text>
<path d="M567.2 544L569.4 544" stroke="#161616" stroke-width="1.15" fill="none" />
<text x="566.2" y="546.66" font-size="7.4" text-anchor="end" fill="#161616">0.5</text>
<path d="M567.2 525.3L569.4 525.3" stroke="#161616" stroke-width="1.15" fill="none" />
<text x="566.2" y="527.96" font-size="7.4" text-anchor="end" fill="#161616">1.0</text>
<path d="M567.2 506.6L569.4 506.6" stroke="#161616" stroke-width="1.15" fill="none" />
<text x="566.2" y="509.26" font-size="7.4" text-anchor="end" fill="#161616">1.5</text>
<path d="M567.2 487.9L569.4 487.9" stroke="#161616" stroke-width="1.15" fill="none" />
<text x="566.2" y="490.56" font-size="7.4" text-anchor="end" fill="#161616">2.0</text>
<path d="M569.4 562.7L682.3 562.7" stroke="#161616" stroke-width="1.15" fill="none" />
<path d="M579.2 562.7L579.2 564.9" stroke="#161616" stroke-width="1.15" fill="none" />
<path d="M597.9 562.7L597.9 564.9" stroke="#161616" stroke-width="1.15" fill="none" />
<path d="M616.6 562.7L616.6 564.9" stroke="#161616" stroke-width="1.15" fill="none" />
<path d="M635.3 562.7L635.3 564.9" stroke="#161616" stroke-width="1.15" fill="none" />
<path d="M654 562.7L654 564.9" stroke="#161616" stroke-width="1.15" fill="none" />
<path d="M672.7 562.7L672.7 564.9" stroke="#161616" stroke-width="1.15" fill="none" />
<text x="579.8" y="569.9" font-size="7.25" text-anchor="end" transform="rotate(-45 579.8 569.9)">Tg Con</text>
<text x="598.5" y="569.9" font-size="7.25" text-anchor="end" transform="rotate(-45 598.5 569.9)">Tg + P</text>
<text x="617.2" y="569.9" font-size="7.25" text-anchor="end" transform="rotate(-45 617.2 569.9)">Tg + hUCB + P</text>
<text x="635.9" y="569.9" font-size="7.25" text-anchor="end" transform="rotate(-45 635.9 569.9)">Wt</text>
<text x="654.6" y="569.9" font-size="7.25" text-anchor="end" transform="rotate(-45 654.6 569.9)">Wt + P</text>
<text x="673.3" y="569.9" font-size="7.25" text-anchor="end" transform="rotate(-45 673.3 569.9)">Wt + hUCB + P</text>
<text x="186.05" y="652.2" font-size="13.45" text-anchor="middle">Distal Colonic Propulsion</text>
<text x="76" y="739" font-size="13.5" text-anchor="middle" transform="rotate(-90 76 739)">Bead Expulsion Latency</text>
<text x="92.4" y="739.7" font-size="13.4" text-anchor="middle" transform="rotate(-90 92.4 739.7)">(min)</text>
<path d="M120.1 790.4V718.6H144.3V790.4" stroke="#111" stroke-width="1.4" fill="none" />
<path d="M156.1 790.4V733.8H180.4V790.4" stroke="#a3a3a3" stroke-width="1.4" fill="none" />
<path d="M192.4 790.4V745.6H216.6V790.4" stroke="#858585" stroke-width="1.4" fill="none" />
<path d="M228.8 790.4V758H253V790.4" stroke="#dadada" stroke-width="1.4" fill="none" />
<path d="M113.7 693.1L113.7 790.4" stroke="#111" stroke-width="1.4" fill="none" />
<path d="M110.5 790.4L113.7 790.4" stroke="#111" stroke-width="1.4" fill="none" />
<text x="109.8" y="794.2" font-size="10.6" text-anchor="end" fill="#111">0</text>
<path d="M110.5 766.2L113.7 766.2" stroke="#111" stroke-width="1.4" fill="none" />
<text x="109.8" y="770" font-size="10.6" text-anchor="end" fill="#111">10</text>
<path d="M110.5 742L113.7 742" stroke="#111" stroke-width="1.4" fill="none" />
<text x="109.8" y="745.8" font-size="10.6" text-anchor="end" fill="#111">20</text>
<path d="M110.5 717.8L113.7 717.8" stroke="#111" stroke-width="1.4" fill="none" />
<text x="109.8" y="721.6" font-size="10.6" text-anchor="end" fill="#111">30</text>
<path d="M110.5 693.6L113.7 693.6" stroke="#111" stroke-width="1.4" fill="none" />
<text x="109.8" y="697.4" font-size="10.6" text-anchor="end" fill="#111">40</text>
<path d="M113.7 790.4L258.5 790.4" stroke="#111" stroke-width="1.4" fill="none" />
<path d="M132 790.4L132 793" stroke="#111" stroke-width="1.4" fill="none" />
<path d="M168.2 790.4L168.2 793" stroke="#111" stroke-width="1.4" fill="none" />
<path d="M204.5 790.4L204.5 793" stroke="#111" stroke-width="1.4" fill="none" />
<path d="M241 790.4L241 793" stroke="#111" stroke-width="1.4" fill="none" />
<text x="133.5" y="802" font-size="10.5" text-anchor="end" transform="rotate(-45 133.5 802)" fill="#111">Tg Con</text>
<text x="169.7" y="802" font-size="10.5" text-anchor="end" transform="rotate(-45 169.7 802)" fill="#111">Tg + P</text>
<text x="206" y="802" font-size="10.5" text-anchor="end" transform="rotate(-45 206 802)" fill="#111">Tg + hUCB + P</text>
<text x="242.5" y="802" font-size="10.5" text-anchor="end" transform="rotate(-45 242.5 802)" fill="#111">Wt</text>
<path d="M131.9 713.1L131.9 724.1" stroke="#000" stroke-width="1.5" fill="none" />
<path d="M126.4 713.1L137.4 713.1" stroke="#000" stroke-width="1.5" fill="none" />
<path d="M126.4 724.1L137.4 724.1" stroke="#000" stroke-width="1.5" fill="none" />
<circle cx="128.8" cy="713.3" r="2.35" fill="#000"/>
<circle cx="138" cy="715.5" r="2.35" fill="#000"/>
<circle cx="134.7" cy="720.3" r="2.35" fill="#000"/>
<circle cx="129" cy="725.2" r="2.35" fill="#000"/>
<path d="M168.1 730.5L168.1 737.1" stroke="#000" stroke-width="1.5" fill="none" />
<path d="M162.85 730.5L173.35 730.5" stroke="#000" stroke-width="1.5" fill="none" />
<path d="M162.85 737.1L173.35 737.1" stroke="#000" stroke-width="1.5" fill="none" />
<rect x="159.9" y="730.4" width="4.2" height="4.2" fill="#000"/>
<rect x="166" y="727.3" width="4.2" height="4.2" fill="#000"/>
<rect x="171.8" y="732.7" width="4.2" height="4.2" fill="#000"/>
<rect x="166" y="735.6" width="4.2" height="4.2" fill="#000"/>
<path d="M204.5 742.7L204.5 749" stroke="#000" stroke-width="1.5" fill="none" />
<path d="M198.75 742.7L210.25 742.7" stroke="#000" stroke-width="1.5" fill="none" />
<path d="M198.75 749L210.25 749" stroke="#000" stroke-width="1.5" fill="none" />
<path d="M198.8 742.8L201.2 747L196.4 747Z" fill="#000"/>
<path d="M204.5 739.2L206.9 743.4L202.1 743.4Z" fill="#000"/>
<path d="M210.4 744.5L212.8 748.7L208 748.7Z" fill="#000"/>
<path d="M204.5 747.6L206.9 751.8L202.1 751.8Z" fill="#000"/>
<path d="M241 752.9L241 763" stroke="#000" stroke-width="1.5" fill="none" />
<path d="M235.25 752.9L246.75 752.9" stroke="#000" stroke-width="1.5" fill="none" />
<path d="M235.25 763L246.75 763" stroke="#000" stroke-width="1.5" fill="none" />
<path d="M237.7 753.5L240.1 749.3L235.3 749.3Z" fill="#000"/>
<path d="M246.9 758.2L249.3 754L244.5 754Z" fill="#000"/>
<path d="M243.6 760.8L246 756.6L241.2 756.6Z" fill="#000"/>
<path d="M237.7 766.1L240.1 761.9L235.3 761.9Z" fill="#000"/>
<path d="M130.8 683V679H241.6V683" stroke="#0a0a0a" stroke-width="1.5" fill="none" />
<text x="184.05" y="679.6" font-size="12.5" text-anchor="middle" fill="#111" letter-spacing="0.7">**</text>
<path d="M130.8 696.6V692.6H203.8V696.6" stroke="#0a0a0a" stroke-width="1.5" fill="none" />
<text x="167.35" y="693.2" font-size="12.5" text-anchor="middle" fill="#111" letter-spacing="0.7">**</text>
<path d="M130.8 707.4V703.4H168.2V707.4" stroke="#0a0a0a" stroke-width="1.5" fill="none" />
<text x="149.95" y="704" font-size="12.5" text-anchor="middle" fill="#111" letter-spacing="0.7">*</text>
<path d="M168.2 715V711H241.6V715" stroke="#0a0a0a" stroke-width="1.5" fill="none" />
<text x="204.15" y="711.6" font-size="12.5" text-anchor="middle" fill="#111" letter-spacing="0.7">**</text>
<path d="M168.2 724.6V720.6H204.8V724.6" stroke="#0a0a0a" stroke-width="1.5" fill="none" />
<text x="186.35" y="721.2" font-size="12.5" text-anchor="middle" fill="#111" letter-spacing="0.7">*</text>
<path d="M204.8 737.5V733.5H242V737.5" stroke="#0a0a0a" stroke-width="1.5" fill="none" />
<text x="224.15" y="734.1" font-size="12.5" text-anchor="middle" fill="#111" letter-spacing="0.7">*</text>
<text x="542.15" y="653" font-size="13.55" text-anchor="middle">Gastric Emptying</text>
<text x="432.2" y="739.6" font-size="13.5" text-anchor="middle" transform="rotate(-90 432.2 739.6)">Distance of Charcoal</text>
<text x="448.6" y="738.5" font-size="13.35" text-anchor="middle" transform="rotate(-90 448.6 738.5)">Travelled (cm)</text>
<path d="M475.5 790.4V771H499.8V790.4" stroke="#111" stroke-width="1.4" fill="none" />
<path d="M511.9 790.4V749.7H536.2V790.4" stroke="#a3a3a3" stroke-width="1.4" fill="none" />
<path d="M548.3 790.4V731.4H572.5V790.4" stroke="#6a6a6a" stroke-width="1.4" fill="none" />
<path d="M584.5 790.4V715.8H608.8V790.4" stroke="#dadada" stroke-width="1.4" fill="none" />
<path d="M469.1 693.5L469.1 790.4" stroke="#111" stroke-width="1.4" fill="none" />
<path d="M465.9 790.4L469.1 790.4" stroke="#111" stroke-width="1.4" fill="none" />
<text x="465.2" y="794.2" font-size="10.6" text-anchor="end" fill="#111">0</text>
<path d="M465.9 766.3L469.1 766.3" stroke="#111" stroke-width="1.4" fill="none" />
<text x="465.2" y="770.1" font-size="10.6" text-anchor="end" fill="#111">10</text>
<path d="M465.9 742.2L469.1 742.2" stroke="#111" stroke-width="1.4" fill="none" />
<text x="465.2" y="746" font-size="10.6" text-anchor="end" fill="#111">20</text>
<path d="M465.9 718.1L469.1 718.1" stroke="#111" stroke-width="1.4" fill="none" />
<text x="465.2" y="721.9" font-size="10.6" text-anchor="end" fill="#111">30</text>
<path d="M465.9 694L469.1 694" stroke="#111" stroke-width="1.4" fill="none" />
<text x="465.2" y="697.8" font-size="10.6" text-anchor="end" fill="#111">40</text>
<path d="M469.1 790.4L614.7 790.4" stroke="#111" stroke-width="1.4" fill="none" />
<path d="M487.6 790.4L487.6 793" stroke="#111" stroke-width="1.4" fill="none" />
<path d="M524 790.4L524 793" stroke="#111" stroke-width="1.4" fill="none" />
<path d="M560.3 790.4L560.3 793" stroke="#111" stroke-width="1.4" fill="none" />
<path d="M596.6 790.4L596.6 793" stroke="#111" stroke-width="1.4" fill="none" />
<text x="489.1" y="802" font-size="10.5" text-anchor="end" transform="rotate(-45 489.1 802)" fill="#111">Tg Con</text>
<text x="525.5" y="802" font-size="10.5" text-anchor="end" transform="rotate(-45 525.5 802)" fill="#111">Tg + P</text>
<text x="561.8" y="802" font-size="10.5" text-anchor="end" transform="rotate(-45 561.8 802)" fill="#111">Tg + hUCB + P</text>
<text x="598.1" y="802" font-size="10.5" text-anchor="end" transform="rotate(-45 598.1 802)" fill="#111">Wt</text>
<path d="M487.7 767.2L487.7 774.5" stroke="#000" stroke-width="1.5" fill="none" />
<path d="M481.7 767.2L493.7 767.2" stroke="#000" stroke-width="1.5" fill="none" />
<path d="M481.7 774.5L493.7 774.5" stroke="#000" stroke-width="1.5" fill="none" />
<circle cx="482" cy="769.2" r="2.35" fill="#000"/>
<circle cx="487.7" cy="766.1" r="2.35" fill="#000"/>
<circle cx="487.7" cy="774.5" r="2.35" fill="#000"/>
<circle cx="493.6" cy="774" r="2.35" fill="#000"/>
<path d="M524 745.5L524 754" stroke="#000" stroke-width="1.5" fill="none" />
<path d="M518 745.5L530 745.5" stroke="#000" stroke-width="1.5" fill="none" />
<path d="M518 754L530 754" stroke="#000" stroke-width="1.5" fill="none" />
<rect x="518.4" y="742.3" width="4.2" height="4.2" fill="#000"/>
<rect x="527.8" y="745.2" width="4.2" height="4.2" fill="#000"/>
<rect x="524.5" y="749.8" width="4.2" height="4.2" fill="#000"/>
<rect x="518.6" y="752.8" width="4.2" height="4.2" fill="#000"/>
<path d="M560.3 728.5L560.3 735.1" stroke="#000" stroke-width="1.5" fill="none" />
<path d="M554.3 728.5L566.3 728.5" stroke="#000" stroke-width="1.5" fill="none" />
<path d="M554.3 735.1L566.3 735.1" stroke="#000" stroke-width="1.5" fill="none" />
<path d="M554.2 728.7L556.6 732.9L551.8 732.9Z" fill="#000"/>
<path d="M560.3 725.2L562.7 729.4L557.9 729.4Z" fill="#000"/>
<path d="M566.5 730.6L568.9 734.8L564.1 734.8Z" fill="#000"/>
<path d="M560.3 733.5L562.7 737.7L557.9 737.7Z" fill="#000"/>
<path d="M596.6 710L596.6 721.9" stroke="#000" stroke-width="1.5" fill="none" />
<path d="M590.6 710L602.6 710" stroke="#000" stroke-width="1.5" fill="none" />
<path d="M590.6 721.9L602.6 721.9" stroke="#000" stroke-width="1.5" fill="none" />
<path d="M596.6 710.2L599 706L594.2 706Z" fill="#000"/>
<path d="M593.5 718L595.9 713.8L591.1 713.8Z" fill="#000"/>
<path d="M599.7 718L602.1 713.8L597.3 713.8Z" fill="#000"/>
<path d="M596.6 725.2L599 721L594.2 721Z" fill="#000"/>
<path d="M487.3 681.5V677.5H596.7V681.5" stroke="#0a0a0a" stroke-width="1.5" fill="none" />
<text x="541.35" y="678.1" font-size="12.5" text-anchor="middle" fill="#111" letter-spacing="0.7">***</text>
<path d="M523.8 693.7V689.7H596.7V693.7" stroke="#0a0a0a" stroke-width="1.5" fill="none" />
<text x="560.35" y="690.3" font-size="12.5" text-anchor="middle" fill="#111" letter-spacing="0.7">***</text>
<path d="M560.4 703.7V699.7H596.7V703.7" stroke="#0a0a0a" stroke-width="1.5" fill="none" />
<text x="578.35" y="700.3" font-size="12.5" text-anchor="middle" fill="#111" letter-spacing="0.7">*</text>
<path d="M487.3 714.2V710.2H560.4V714.2" stroke="#0a0a0a" stroke-width="1.5" fill="none" />
<text x="523.85" y="710.8" font-size="12.5" text-anchor="middle" fill="#111" letter-spacing="0.7">***</text>
<path d="M523.8 724.3V720.3H560.4V724.3" stroke="#0a0a0a" stroke-width="1.5" fill="none" />
<text x="542.15" y="720.9" font-size="12.5" text-anchor="middle" fill="#111" letter-spacing="0.7">**</text>
<path d="M487.3 740.4V736.4H523.8V740.4" stroke="#0a0a0a" stroke-width="1.5" fill="none" />
<text x="504.75" y="737" font-size="12.5" text-anchor="middle" fill="#111" letter-spacing="0.7">***</text>
</svg></body></html>
